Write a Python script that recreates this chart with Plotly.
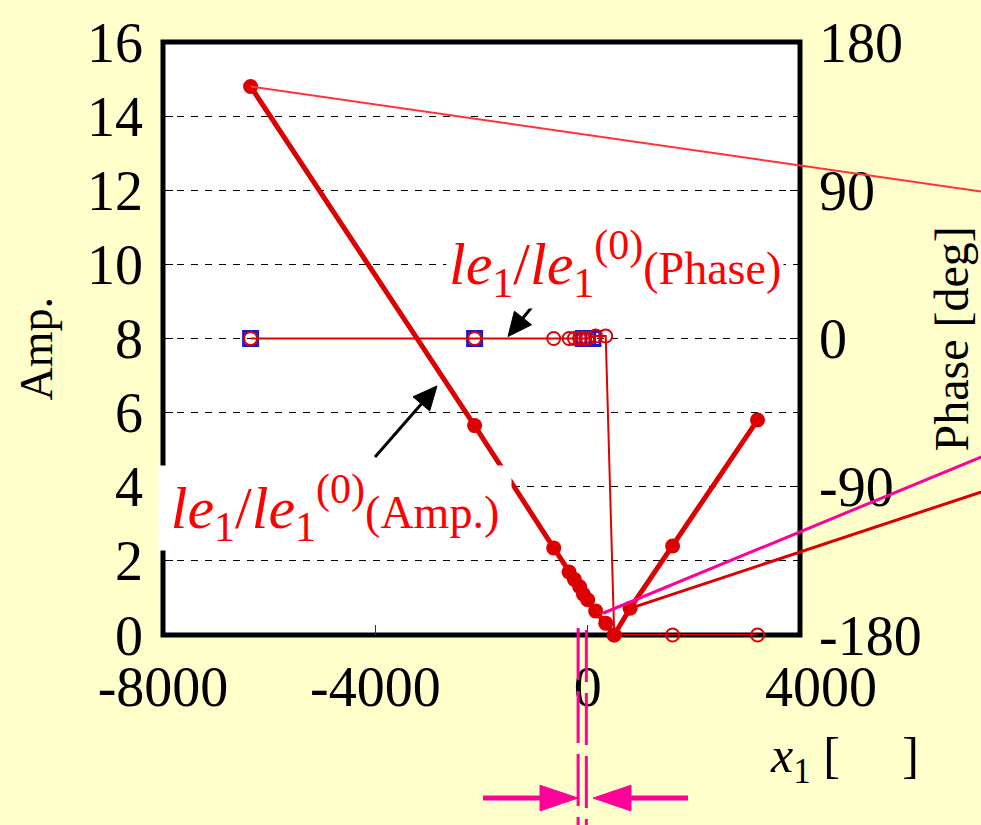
import math
import plotly.graph_objects as go

# ---------------- data ----------------
amp_x = [-6350, -2130, -640, -350, -250, -150, -80, 0, 150, 340, 500, 800, 1600, 3200]
amp_y = [14.8, 5.65, 2.35, 1.7, 1.5, 1.3, 1.1, 0.95, 0.65, 0.32, 0.0, 0.72, 2.4, 5.8]

phase_x = [-6350, -2130, -640, -350, -250, -150, -80, 0, 150, 340, 500, 1600, 3200]
phase_y = [0, 0, 0, 0, 0, 0, 0, 0, 1.5, 1.5, -180, -180, -180]

blue_x = [-6350, -2130, -80, 0, 100]
blue_y = [0, 0, 0, 0, 0]

x_ticks = [-8000, -4000, 0, 4000]
x_ticktext = ["-8000", "-4000", "0", "\u00a0\u00a0\u00a04000"]
amp_ticks = [0, 2, 4, 6, 8, 10, 12, 14, 16]
amp_ticktext = ["0", "2", "4", "6", "8", "10", "12", "14", "16"]
phase_ticks = [-180, -90, 0, 90, 180]
phase_ticktext = ["-180", "-90", "0", "90", "180"]

X_RANGE = [-8000, 4000]
AMP_RANGE = [0, 16]
PHASE_RANGE = [-180, 180]

# ---------------- geometry helpers ----------------
W, H = 981, 825
L, R, T, B = 163, 800, 35, 635
FONT = "Liberation Serif"
BG = "#FFFFCC"
RED = "#DD0000"
MAG = "#FF0099"


def pxp(px, py):
    """page pixel -> paper coords"""
    return (px - L) / (R - L), (B - py) / (B - T)


def dxp(x, y):
    """amp data -> paper coords"""
    return ((x - X_RANGE[0]) / (X_RANGE[1] - X_RANGE[0]),
            (y - AMP_RANGE[0]) / (AMP_RANGE[1] - AMP_RANGE[0]))


fig = go.Figure()

# blue open squares (phase axis)
fig.add_trace(go.Scatter(
    x=blue_x, y=blue_y, yaxis="y", mode="markers",
    marker=dict(symbol="square-open", size=14, color="#1A1ACC", line=dict(width=3, color="#1A1ACC")),
    showlegend=False, cliponaxis=False, hoverinfo="skip"))

# phase (open circles, thin line)
fig.add_trace(go.Scatter(
    x=phase_x, y=phase_y, yaxis="y", mode="lines+markers",
    line=dict(color="#E00000", width=2),
    marker=dict(symbol="circle-open", size=13, color="#E00000", line=dict(width=2, color="#E00000")),
    showlegend=False, cliponaxis=False))

# amplitude (filled circles, thick line)
fig.add_trace(go.Scatter(
    x=amp_x, y=amp_y, yaxis="y2", mode="lines+markers",
    line=dict(color=RED, width=5),
    marker=dict(symbol="circle", size=15, color=RED),
    showlegend=False, cliponaxis=False))

tickfont = dict(family=FONT, size=56, color="black")

shapes = []
# plot border
shapes.append(dict(type="rect", xref="paper", yref="paper", x0=0, x1=1, y0=0, y1=1,
                   line=dict(color="black", width=5), fillcolor="rgba(0,0,0,0)", layer="below"))

# leader lines running off the right edge
s0 = dxp(amp_x[0], amp_y[0])
e0 = pxp(1000, 189)
shapes.append(dict(type="line", xref="paper", yref="paper", x0=s0[0], y0=s0[1], x1=e0[0], y1=e0[1],
                   line=dict(color="#FF3333", width=2), layer="above"))
s1 = pxp(603, 613)
e1 = pxp(1000, 447)
shapes.append(dict(type="line", xref="paper", yref="paper", x0=s1[0], y0=s1[1], x1=e1[0], y1=e1[1],
                   line=dict(color=MAG, width=3), layer="above"))
s2 = dxp(amp_x[11], amp_y[11])
e2 = pxp(1000, 484)
shapes.append(dict(type="line", xref="paper", yref="paper", x0=s2[0], y0=s2[1], x1=e2[0], y1=e2[1],
                   line=dict(color=RED, width=3), layer="above"))

# magenta dashed verticals
for xv, top in [(-180, 628), (-25, 630)]:
    xp = (xv - X_RANGE[0]) / (X_RANGE[1] - X_RANGE[0])
    shapes.append(dict(type="line", xref="paper", yref="paper", x0=xp, x1=xp,
                       y0=pxp(0, top)[1], y1=pxp(0, 830)[1],
                       line=dict(color=MAG, width=3, dash="52px,11px"), layer="above"))


def seg(x0, y0, x1, y1, w, color):
    a, b = pxp(x0, y0)
    c, d = pxp(x1, y1)
    return dict(type="line", xref="paper", yref="paper", x0=a, y0=b, x1=c, y1=d,
                line=dict(color=color, width=w), layer="above")


def tri(p1, p2, p3, color):
    pts = [pxp(*p) for p in (p1, p2, p3)]
    path = "M {} {} L {} {} L {} {} Z".format(pts[0][0], pts[0][1], pts[1][0], pts[1][1], pts[2][0], pts[2][1])
    return dict(type="path", xref="paper", yref="paper", path=path,
                fillcolor=color, line=dict(color=color, width=1), layer="above")


def arrow(tail, tip, w, head_len, head_half, color):
    dx, dy = tip[0] - tail[0], tip[1] - tail[1]
    n = math.hypot(dx, dy)
    ux, uy = dx / n, dy / n
    bx, by = tip[0] - head_len * ux, tip[1] - head_len * uy
    px_, py_ = -uy, ux
    out = [seg(tail[0], tail[1], bx + ux * 2, by + uy * 2, w, color),
           tri((bx + head_half * px_, by + head_half * py_),
               (bx - head_half * px_, by - head_half * py_), tip, color)]
    return out


# magenta arrows
shapes += arrow((483, 800), (578, 800), 5, 38, 13, MAG)
shapes += arrow((688, 800), (593, 800), 5, 38, 13, MAG)
# black arrows
shapes += arrow((375, 455), (437, 383), 3, 24, 11, "black")
shapes += arrow((548, 283), (508, 333), 3, 24, 11, "black")

annotations = []
# axis titles
ax_, ay_ = pxp(36, 345)
annotations.append(dict(xref="paper", yref="paper", x=ax_, y=ay_, text="Amp.", showarrow=False,
                        textangle=-90, font=dict(family=FONT, size=46, color="black"),
                        xanchor="center", yanchor="middle"))
px_, py_ = pxp(951, 336)
annotations.append(dict(xref="paper", yref="paper", x=px_, y=py_, text="Phase [deg]", showarrow=False,
                        textangle=-90, font=dict(family=FONT, size=48, color="black"),
                        xanchor="center", yanchor="middle"))
tx, ty = pxp(844, 760)
annotations.append(dict(xref="paper", yref="paper", x=tx, y=ty,
                        text="<i>x</i><sub>1</sub> [\u00a0\u00a0\u00a0\u00a0\u00a0]", showarrow=False,
                        font=dict(family=FONT, size=50, color="black"),
                        xanchor="center", yanchor="middle"))

# series labels
lx, ly = pxp(615, 260)
annotations.append(dict(xref="paper", yref="paper", x=lx, y=ly,
                        text="<i>le</i><sub>1</sub>/<i>le</i><sub>1</sub><sup>(0)</sup>"
                             "<span style='font-size:46px'>(Phase)</span>",
                        showarrow=False, bgcolor="white", borderpad=2,
                        font=dict(family=FONT, size=60, color="#FF0000"),
                        xanchor="center", yanchor="middle"))
mx, my = pxp(335, 507)
annotations.append(dict(xref="paper", yref="paper", x=mx, y=my,
                        text="<i>le</i><sub>1</sub>/<i>le</i><sub>1</sub><sup>(0)</sup>"
                             "<span style='font-size:46px'>(Amp.)</span>",
                        showarrow=False, bgcolor="white", borderpad=0, width=352, height=84,
                        font=dict(family=FONT, size=60, color="#FF0000"),
                        xanchor="center", yanchor="middle"))

fig.update_layout(
    width=W, height=H,
    margin=dict(l=L, r=W - R, t=T, b=H - B, pad=0),
    paper_bgcolor=BG, plot_bgcolor="white",
    showlegend=False,
    xaxis=dict(range=X_RANGE, tickvals=x_ticks, ticktext=x_ticktext, ticks="inside", ticklen=10,
               tickwidth=1, tickcolor="#333", showgrid=False, zeroline=False, showline=False,
               tickfont=tickfont, ticklabelstandoff=14),
    yaxis=dict(range=PHASE_RANGE, side="right", tickvals=phase_ticks, ticktext=phase_ticktext,
               ticks="inside", ticklen=10, tickwidth=1, tickcolor="black", showgrid=False,
               zeroline=False, showline=False, tickfont=tickfont, ticklabelstandoff=18),
    yaxis2=dict(range=AMP_RANGE, side="left", overlaying="y", tickvals=amp_ticks, ticktext=amp_ticktext,
                ticks="inside", ticklen=10, tickwidth=1, tickcolor="black", showgrid=True,
                gridcolor="black", gridwidth=1, griddash="7px,7px", zeroline=False, showline=False,
                tickfont=tickfont, ticklabelstandoff=19),
    shapes=shapes,
    annotations=annotations,
)

fig.write_html("out.html")
